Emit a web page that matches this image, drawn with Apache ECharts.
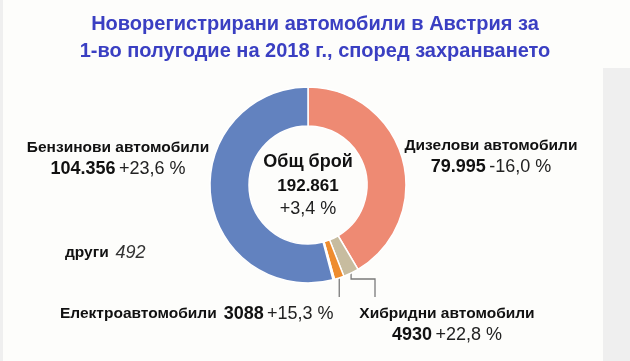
<!DOCTYPE html>
<html><head><meta charset="utf-8">
<script src="https://cdn.jsdelivr.net/npm/echarts@6/dist/echarts.min.js"></script>
<style>html,body{margin:0;padding:0;background:#fdfdfb}#c{width:630px;height:361px}</style>
</head><body><div id="c"></div>
<script>
// ---- data ----
const titleLines = ['Новорегистрирани автомобили в Австрия за', '1-во полугодие на 2018 г., според захранването'];
const categories = ['Дизелови автомобили', 'Хибридни автомобили', 'Електроавтомобили', 'други', 'Бензинови автомобили'];
const values = [79995, 4930, 3088, 492, 104356];
const changes = [-16.0, 22.8, 15.3, null, 23.6];
const totalTitle = 'Общ брой';
const totalChange = 3.4;

// ---- style ----
const colors = ['#ee8a73', '#c7bc9f', '#ee8c2e', '#e6e6e6', '#6282bf'];
const FONT = '"Liberation Sans", Arial, Helvetica, sans-serif';

function fmtNum(n) { return n >= 10000 ? String(n).replace(/\B(?=(\d{3})+(?!\d))/g, '.') : String(n); }
function fmtPct(p) { return (p > 0 ? '+' : '') + p.toFixed(1).replace('.', ',') + ' %'; }

const total = values.reduce((a, b) => a + b, 0);

// label layout (pixel placement)
const labelPos = [
  { x: 491, y: 136, align: 'center' },                 // diesel
  { x: 447, y: 304, align: 'center', line: 'step', bend: 279, to: 375, end: 297 }, // hybrid
  { x: 60,  y: 303, align: 'left', line: 'down', end: 297 },                       // electric
  { x: 65,  y: 243, align: 'left' },                   // other
  { x: 118, y: 138, align: 'center' }                  // petrol
];

const rich = {
  n: { fontFamily: FONT, fontSize: 15.5, fontWeight: 'bold', color: '#111', lineHeight: 20 },
  v: { fontFamily: FONT, fontSize: 18, fontWeight: 'bold', color: '#111', lineHeight: 22 },
  p: { fontFamily: FONT, fontSize: 18, color: '#222', lineHeight: 22 },
  s: { fontFamily: FONT, fontSize: 15.5, lineHeight: 20, width: 7 },
  i: { fontFamily: FONT, fontSize: 18, fontStyle: 'italic', color: '#333', lineHeight: 20 }
};

function labelText(i) {
  const name = categories[i], v = fmtNum(values[i]);
  if (changes[i] == null) return '{n|' + name + '}  {i|' + v + '}';
  if (i === 2) return '{n|' + name + '}{s|}{v|' + v + '} {p|' + fmtPct(changes[i]) + '}';
  return '{n|' + name + '}\n{v|' + v + '} {p|' + fmtPct(changes[i]) + '}';
}

const data = categories.map((c, i) => ({
  name: c, value: values[i],
  itemStyle: { color: colors[i] },
  label: { formatter: labelText(i) },
  labelLine: { show: !!labelPos[i].line }
}));

const chart = echarts.init(document.getElementById('c'), null, { renderer: 'canvas' });
chart.setOption({
  backgroundColor: '#fdfdfb',
  animation: false,
  title: {
    text: titleLines.join('\n'), left: 'center', top: 6,
    textStyle: { fontFamily: FONT, fontSize: 20, fontWeight: 'bold', color: '#3a3fc2', lineHeight: 27 }
  },
  graphic: [
    { type: 'rect', shape: { x: 603, y: 68, width: 27, height: 293 }, style: { fill: '#efefef' }, z: -10 },
    { type: 'rect', shape: { x: 0, y: 0, width: 3, height: 361 }, style: { fill: '#efefef' }, z: -10 },
    { type: 'text', x: 308, y: 150, z: 10,
      style: {
        text: '{a|' + totalTitle + '}\n{b|' + fmtNum(total) + '}\n{c|' + fmtPct(totalChange) + '}',
        align: 'center', verticalAlign: 'top',
        rich: {
          a: { fontFamily: FONT, fontSize: 18, fontWeight: 'bold', fill: '#111', lineHeight: 24, align: 'center' },
          b: { fontFamily: FONT, fontSize: 17, fontWeight: 'bold', fill: '#111', lineHeight: 24, align: 'center' },
          c: { fontFamily: FONT, fontSize: 18, fill: '#222', lineHeight: 22, align: 'center' }
        }
      }
    }
  ],
  series: [{
    type: 'pie',
    center: [308, 185],
    radius: [59, 98],
    startAngle: 90,
    clockwise: true,
    avoidLabelOverlap: false,
    silent: true,
    itemStyle: { borderColor: '#ffffff', borderWidth: 1.5 },
    label: { show: true, position: 'outside', rich: rich },
    labelLine: { show: false, lineStyle: { color: '#7a7a7a', width: 1.3 }, smooth: false },
    labelLayout: function (p) {
      const L = labelPos[p.dataIndex];
      const out = { x: L.x, y: L.y, align: L.align, verticalAlign: 'top' };
      if (L.line && p.labelLinePoints) {
        const s = p.labelLinePoints[0];
        if (L.line === 'down') {
          out.labelLinePoints = [[s[0], s[1]], [s[0], (s[1] + L.end) / 2], [s[0], L.end]];
        } else {
          out.labelLinePoints = [[s[0], s[1]], [s[0], L.bend], [L.to, L.bend], [L.to, L.end]];
        }
      }
      return out;
    },
    data: data
  }]
});
</script>
</body></html>
